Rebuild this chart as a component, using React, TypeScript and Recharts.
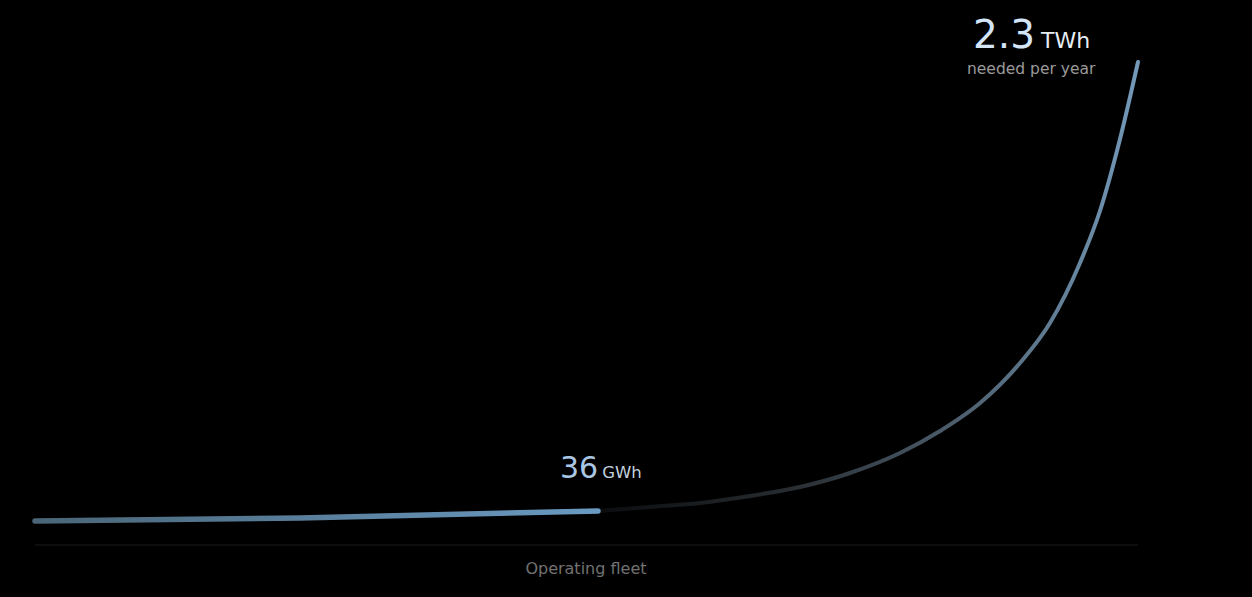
import { LineChart, Line, XAxis, YAxis, ReferenceDot } from "recharts";

// x: share of the timeline (0-100), v: relative height of the curve (0-100)
const fleetX = [0, 24, 51.04];
const fleetV = [4.97, 5.59, 7.04];

const projectionX = [51.04, 55.76, 60.29, 64.82, 69.36, 73.89, 78.42, 82.05, 85.68, 89.3, 92.02, 94.74, 96.55, 98.37, 100];
const projectionV = [7.04, 7.87, 8.7, 10.14, 12.01, 14.91, 19.05, 23.6, 29.4, 37.68, 45.96, 58.39, 69.15, 84.06, 100];

const axisTicks = [49.95];
const axisLabel = "Operating fleet";

const currentValue = "36";
const currentUnit = "GWh";
const targetValue = "2.3";
const targetUnit = "TWh";
const targetNote = "needed per year";

const fleetData = fleetX.map((x, i) => ({ x, v: fleetV[i] }));
const projectionData = projectionX.map((x, i) => ({ x, v: projectionV[i] }));

const font = "'DejaVu Sans', sans-serif";

function CurrentLabel({ cx, cy }: { cx?: number; cy?: number }) {
  if (cx == null || cy == null) return null;
  return (
    <text x={cx - 38} y={cy - 33} fontFamily={font}>
      <tspan fontSize={30} fill="#a9c7e4">{currentValue}</tspan>
      <tspan fontSize={16.5} fill="#c4d2df" dx={4}>{currentUnit}</tspan>
    </text>
  );
}

function TargetLabel({ cx, cy }: { cx?: number; cy?: number }) {
  if (cx == null || cy == null) return null;
  return (
    <g fontFamily={font}>
      <text x={cx - 165} y={cy - 14}>
        <tspan fontSize={39} fill="#d3e5f7">{targetValue}</tspan>
        <tspan fontSize={22} fill="#e6edf4" dx={6}>{targetUnit}</tspan>
      </text>
      <text x={cx - 171} y={cy + 12} fontSize={15.5} fill="#9a9a9a">
        {targetNote}
      </text>
    </g>
  );
}

export default function App() {
  return (
    <div style={{ position: "fixed", inset: 0, background: "#000" }}>
      <LineChart width={1252} height={597} margin={{ top: 62, right: 114, left: 35, bottom: 0 }}>
        <defs>
          <linearGradient id="fleetGrad" x1="0" y1="0" x2="1" y2="0">
            <stop offset="0%" stopColor="#4a6577" />
            <stop offset="100%" stopColor="#6a9ac2" />
          </linearGradient>
          <linearGradient id="projGrad" x1="0" y1="0" x2="1" y2="0">
            <stop offset="0%" stopColor="#0a0c0e" />
            <stop offset="35%" stopColor="#272c30" />
            <stop offset="70%" stopColor="#516474" />
            <stop offset="100%" stopColor="#7399b9" />
          </linearGradient>
        </defs>
        <XAxis
          type="number"
          dataKey="x"
          domain={[0, 100]}
          ticks={axisTicks}
          tickFormatter={() => axisLabel}
          height={52}
          axisLine={{ stroke: "#1c1c1c" }}
          tickLine={false}
          tickMargin={12}
          tick={{ fill: "#727272", fontSize: 16, fontFamily: font }}
        />
        <YAxis hide type="number" domain={[0, 100]} />
        <Line
          data={projectionData}
          type="monotone"
          dataKey="v"
          stroke="url(#projGrad)"
          strokeWidth={4}
          strokeLinecap="round"
          dot={false}
          isAnimationActive={false}
        />
        <Line
          data={fleetData}
          type="monotone"
          dataKey="v"
          stroke="url(#fleetGrad)"
          strokeWidth={5.5}
          strokeLinecap="round"
          dot={false}
          isAnimationActive={false}
        />
        <ReferenceDot x={fleetX[2]} y={fleetV[2]} r={0} shape={(p: any) => <CurrentLabel cx={p.cx} cy={p.cy} />} />
        <ReferenceDot x={100} y={100} r={0} shape={(p: any) => <TargetLabel cx={p.cx} cy={p.cy} />} />
      </LineChart>
    </div>
  );
}
